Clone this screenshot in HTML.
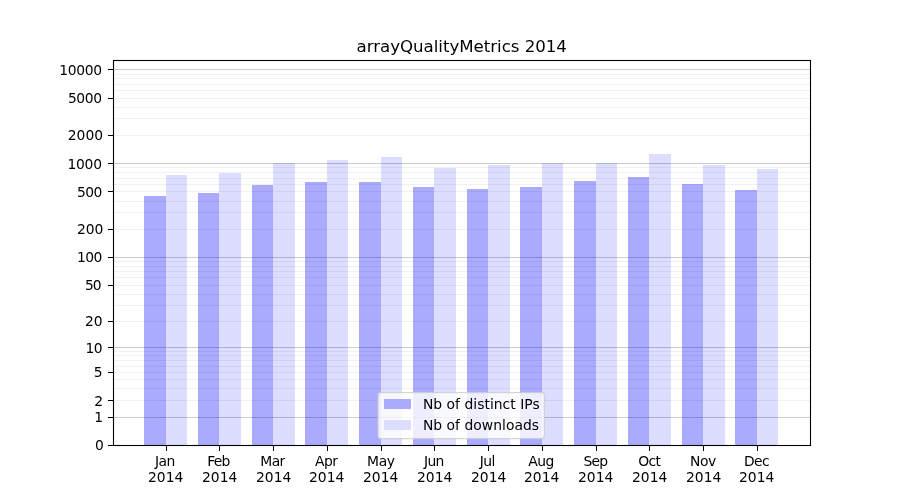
<!DOCTYPE html>
<html><head><meta charset="utf-8"><title>arrayQualityMetrics 2014</title>
<style>html,body{margin:0;padding:0;background:#fff;overflow:hidden}svg{display:block}text{font-family:"DejaVu Sans","Liberation Sans",sans-serif;fill:#000}</style></head><body>
<svg width="900" height="500" viewBox="0 0 900 500">
<rect width="900" height="500" fill="#fff"/>
<g shape-rendering="crispEdges">
<rect x="144" y="196" width="22" height="249" fill="#aaaaff"/>
<rect x="166" y="175" width="21" height="270" fill="#ddddff"/>
<rect x="198" y="193" width="21" height="252" fill="#aaaaff"/>
<rect x="219" y="173" width="22" height="272" fill="#ddddff"/>
<rect x="252" y="185" width="21" height="260" fill="#aaaaff"/>
<rect x="273" y="163" width="22" height="282" fill="#ddddff"/>
<rect x="305" y="182" width="22" height="263" fill="#aaaaff"/>
<rect x="327" y="160" width="21" height="285" fill="#ddddff"/>
<rect x="359" y="182" width="22" height="263" fill="#aaaaff"/>
<rect x="381" y="157" width="21" height="288" fill="#ddddff"/>
<rect x="413" y="187" width="21" height="258" fill="#aaaaff"/>
<rect x="434" y="168" width="22" height="277" fill="#ddddff"/>
<rect x="467" y="189" width="21" height="256" fill="#aaaaff"/>
<rect x="488" y="165" width="22" height="280" fill="#ddddff"/>
<rect x="520" y="187" width="22" height="258" fill="#aaaaff"/>
<rect x="542" y="163" width="21" height="282" fill="#ddddff"/>
<rect x="574" y="181" width="22" height="264" fill="#aaaaff"/>
<rect x="596" y="163" width="21" height="282" fill="#ddddff"/>
<rect x="628" y="177" width="21" height="268" fill="#aaaaff"/>
<rect x="649" y="154" width="22" height="291" fill="#ddddff"/>
<rect x="682" y="184" width="21" height="261" fill="#aaaaff"/>
<rect x="703" y="165" width="22" height="280" fill="#ddddff"/>
<rect x="735" y="190" width="22" height="255" fill="#aaaaff"/>
<rect x="757" y="169" width="21" height="276" fill="#ddddff"/>
</g>
<g shape-rendering="crispEdges">
<rect x="114" y="400" width="696" height="1" fill="#000" fill-opacity="0.055"/>
<rect x="114" y="388" width="696" height="1" fill="#000" fill-opacity="0.055"/>
<rect x="114" y="379" width="696" height="1" fill="#000" fill-opacity="0.055"/>
<rect x="114" y="372" width="696" height="1" fill="#000" fill-opacity="0.055"/>
<rect x="114" y="366" width="696" height="1" fill="#000" fill-opacity="0.055"/>
<rect x="114" y="360" width="696" height="1" fill="#000" fill-opacity="0.055"/>
<rect x="114" y="355" width="696" height="1" fill="#000" fill-opacity="0.055"/>
<rect x="114" y="351" width="696" height="1" fill="#000" fill-opacity="0.055"/>
<rect x="114" y="321" width="696" height="1" fill="#000" fill-opacity="0.055"/>
<rect x="114" y="305" width="696" height="1" fill="#000" fill-opacity="0.055"/>
<rect x="114" y="294" width="696" height="1" fill="#000" fill-opacity="0.055"/>
<rect x="114" y="285" width="696" height="1" fill="#000" fill-opacity="0.055"/>
<rect x="114" y="277" width="696" height="1" fill="#000" fill-opacity="0.055"/>
<rect x="114" y="271" width="696" height="1" fill="#000" fill-opacity="0.055"/>
<rect x="114" y="266" width="696" height="1" fill="#000" fill-opacity="0.055"/>
<rect x="114" y="261" width="696" height="1" fill="#000" fill-opacity="0.055"/>
<rect x="114" y="229" width="696" height="1" fill="#000" fill-opacity="0.055"/>
<rect x="114" y="212" width="696" height="1" fill="#000" fill-opacity="0.055"/>
<rect x="114" y="201" width="696" height="1" fill="#000" fill-opacity="0.055"/>
<rect x="114" y="191" width="696" height="1" fill="#000" fill-opacity="0.055"/>
<rect x="114" y="184" width="696" height="1" fill="#000" fill-opacity="0.055"/>
<rect x="114" y="178" width="696" height="1" fill="#000" fill-opacity="0.055"/>
<rect x="114" y="172" width="696" height="1" fill="#000" fill-opacity="0.055"/>
<rect x="114" y="167" width="696" height="1" fill="#000" fill-opacity="0.055"/>
<rect x="114" y="135" width="696" height="1" fill="#000" fill-opacity="0.055"/>
<rect x="114" y="118" width="696" height="1" fill="#000" fill-opacity="0.055"/>
<rect x="114" y="107" width="696" height="1" fill="#000" fill-opacity="0.055"/>
<rect x="114" y="98" width="696" height="1" fill="#000" fill-opacity="0.055"/>
<rect x="114" y="90" width="696" height="1" fill="#000" fill-opacity="0.055"/>
<rect x="114" y="84" width="696" height="1" fill="#000" fill-opacity="0.055"/>
<rect x="114" y="78" width="696" height="1" fill="#000" fill-opacity="0.055"/>
<rect x="114" y="74" width="696" height="1" fill="#000" fill-opacity="0.055"/>
<rect x="114" y="417" width="696" height="1" fill="#000" fill-opacity="0.2"/>
<rect x="114" y="347" width="696" height="1" fill="#000" fill-opacity="0.2"/>
<rect x="114" y="257" width="696" height="1" fill="#000" fill-opacity="0.2"/>
<rect x="114" y="163" width="696" height="1" fill="#000" fill-opacity="0.2"/>
<rect x="114" y="69" width="696" height="1" fill="#000" fill-opacity="0.2"/>
</g>
<g shape-rendering="crispEdges" fill="#000">
<rect x="108" y="445" width="5" height="1"/>
<rect x="108" y="417" width="5" height="1"/>
<rect x="108" y="400" width="5" height="1"/>
<rect x="108" y="372" width="5" height="1"/>
<rect x="108" y="347" width="5" height="1"/>
<rect x="108" y="321" width="5" height="1"/>
<rect x="108" y="285" width="5" height="1"/>
<rect x="108" y="257" width="5" height="1"/>
<rect x="108" y="229" width="5" height="1"/>
<rect x="108" y="191" width="5" height="1"/>
<rect x="108" y="163" width="5" height="1"/>
<rect x="108" y="135" width="5" height="1"/>
<rect x="108" y="98" width="5" height="1"/>
<rect x="108" y="69" width="5" height="1"/>
<rect x="166" y="446" width="1" height="5"/>
<rect x="219" y="446" width="1" height="5"/>
<rect x="273" y="446" width="1" height="5"/>
<rect x="327" y="446" width="1" height="5"/>
<rect x="381" y="446" width="1" height="5"/>
<rect x="434" y="446" width="1" height="5"/>
<rect x="488" y="446" width="1" height="5"/>
<rect x="542" y="446" width="1" height="5"/>
<rect x="596" y="446" width="1" height="5"/>
<rect x="649" y="446" width="1" height="5"/>
<rect x="703" y="446" width="1" height="5"/>
<rect x="757" y="446" width="1" height="5"/>
</g>
<rect x="113.5" y="60.5" width="697" height="385" fill="none" stroke="#000" stroke-width="1.1"/>
<g font-size="13.89" text-anchor="end">
<text x="103.8" y="450">0</text>
<text x="103.1" y="422">1</text>
<text x="103.0" y="406">2</text>
<text x="102.7" y="377">5</text>
<text x="102.20" y="353" letter-spacing="-0.500">10</text>
<text x="102.7" y="326">20</text>
<text x="100.70" y="290" letter-spacing="-1.000">50</text>
<text x="101.85" y="262" letter-spacing="-0.550">100</text>
<text x="103.4" y="234">200</text>
<text x="101.85" y="197" letter-spacing="-0.550">500</text>
<text x="101.70" y="169" letter-spacing="-0.300">1000</text>
<text x="103.1" y="140">2000</text>
<text x="101.73" y="103" letter-spacing="-0.367">5000</text>
<text x="101.78" y="75" letter-spacing="-0.325">10000</text>
</g>
<g font-size="13.89" text-anchor="middle">
<text x="164.95" y="466" letter-spacing="-0.50">Jan</text><text x="165.7" y="482">2014</text>
<text x="218.39" y="466" letter-spacing="-0.70">Feb</text><text x="219.7" y="482">2014</text>
<text x="272.47" y="466" letter-spacing="-0.60">Mar</text><text x="273.7" y="482">2014</text>
<text x="326.16" y="466" letter-spacing="-0.50">Apr</text><text x="326.7" y="482">2014</text>
<text x="380.85" y="466" letter-spacing="-0.40">May</text><text x="380.7" y="482">2014</text>
<text x="433.88" y="466" letter-spacing="-0.60">Jun</text><text x="434.7" y="482">2014</text>
<text x="487.37" y="466" letter-spacing="-0.50">Jul</text><text x="488.7" y="482">2014</text>
<text x="541.10" y="466" letter-spacing="-0.50">Aug</text><text x="541.7" y="482">2014</text>
<text x="595.39" y="466" letter-spacing="-0.80">Sep</text><text x="595.7" y="482">2014</text>
<text x="649.23" y="466" letter-spacing="-0.60">Oct</text><text x="649.7" y="482">2014</text>
<text x="702.91" y="466" letter-spacing="-0.50">Nov</text><text x="703.7" y="482">2014</text>
<text x="756.50" y="466" letter-spacing="-0.60">Dec</text><text x="756.7" y="482">2014</text>
</g>
<text x="461.7" y="52" font-size="16.67" text-anchor="middle" letter-spacing="-0.04">arrayQualityMetrics 2014</text>
<rect x="378" y="392.6" width="166.4" height="46" rx="2.8" ry="2.8" fill="#fff" fill-opacity="0.8" stroke="#ccc" stroke-opacity="0.8" stroke-width="1.39"/>
<rect x="384" y="399" width="27" height="10" fill="#aaaaff" shape-rendering="crispEdges"/>
<rect x="384" y="420" width="27" height="10" fill="#ddddff" shape-rendering="crispEdges"/>
<text x="422.9" y="409" font-size="13.89" letter-spacing="0.03">Nb of distinct IPs</text>
<text x="422.9" y="430" font-size="13.89" letter-spacing="0.03">Nb of downloads</text>
</svg></body></html>
